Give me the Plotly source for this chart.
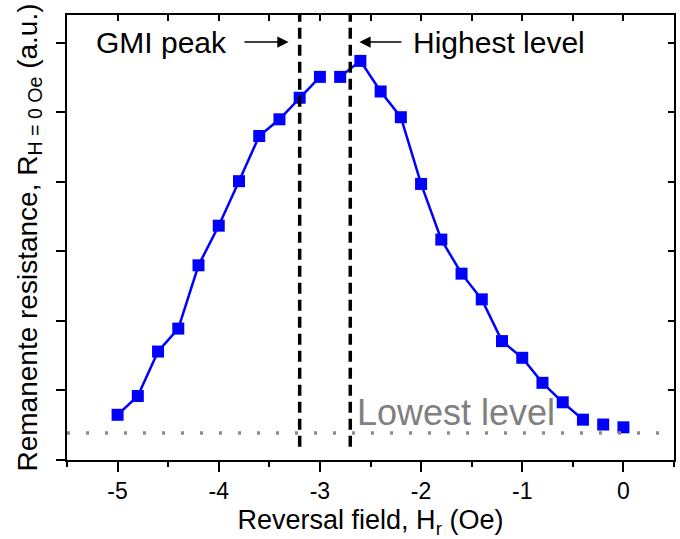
import plotly.graph_objects as go

# Data
field = [-5.0, -4.8, -4.6, -4.4, -4.2, -4.0, -3.8, -3.6, -3.4, -3.2, -3.0, -2.8, -2.6,
         -2.4, -2.2, -2.0, -1.8, -1.6, -1.4, -1.2, -1.0, -0.8, -0.6, -0.4, -0.2, 0.0]
resistance = [0.65, 0.92, 1.56, 1.89, 2.80, 3.37, 4.01, 4.66, 4.90, 5.21, 5.51, 5.51, 5.74,
              5.30, 4.93, 3.97, 3.17, 2.68, 2.31, 1.71, 1.47, 1.11, 0.83, 0.58, 0.51, 0.47]
# segments where the connecting line is not drawn (start index of the gap)
line_breaks = [10, 23, 24]

gmi_peak = -3.2
highest_level = -2.7
lowest_level = 0.39

x_ticks = [-5, -4, -3, -2, -1, 0]
x_tick_labels = ["-5", "-4", "-3", "-2", "-1", "0"]

FONT = "Liberation Sans, Arial, sans-serif"
BLUE = "#0000ff"

# build line arrays with breaks
lx, ly = [], []
for i, (xv, yv) in enumerate(zip(field, resistance)):
    lx.append(xv)
    ly.append(yv)
    if i in line_breaks:
        lx.append(None)
        ly.append(None)

fig = go.Figure()
fig.add_trace(go.Scatter(x=lx, y=ly, mode="lines",
                         line=dict(color=BLUE, width=2.5), showlegend=False,
                         hoverinfo="skip"))
fig.add_trace(go.Scatter(x=field, y=resistance, mode="markers",
                         marker=dict(symbol="square", size=12, color=BLUE,
                                     line=dict(width=0)),
                         showlegend=False))
# invisible trace for the overlay axes
fig.add_trace(go.Scatter(x=[None], y=[None], xaxis="x2", yaxis="y2", showlegend=False))

XR = [-5.5, 0.5]
YR = [0, 6.4]

# lowest level dotted line
fig.add_shape(type="line", xref="x", yref="y", x0=XR[0], x1=XR[1],
              y0=lowest_level, y1=lowest_level,
              line=dict(color="#8c8c8c", width=3.5, dash="3px,16px"))
# dashed vertical lines
for xv in [gmi_peak, highest_level]:
    fig.add_shape(type="line", xref="x", yref="y", x0=xv, x1=xv, y0=0.19, y1=YR[1],
                  line=dict(color="black", width=3.5, dash="11px,6px"))

fig.update_layout(
    width=680, height=539,
    margin=dict(l=67, r=6, t=15, b=79),
    plot_bgcolor="white", paper_bgcolor="white",
    font=dict(family=FONT, color="black"),
    xaxis=dict(range=XR, tickvals=x_ticks, ticktext=x_tick_labels,
               ticks="outside", ticklen=10, tickwidth=1.5, tickcolor="black",
               minor=dict(dtick=0.5, tick0=0, ticks="outside", ticklen=5,
                          tickwidth=1.5, tickcolor="black"),
               showline=True, linecolor="black", linewidth=1.5,
               showgrid=False, zeroline=False,
               tickfont=dict(size=23, family=FONT),
               title=dict(text="Reversal field, H<sub>r</sub> (Oe)",
                          font=dict(size=27, family=FONT), standoff=8)),
    yaxis=dict(range=YR, dtick=1, tick0=0, ticks="outside", ticklen=9,
               tickwidth=1.5, tickcolor="black", showticklabels=False,
               showline=True, linecolor="black", linewidth=1.5,
               showgrid=False, zeroline=False),
    xaxis2=dict(range=XR, overlaying="x", side="top", dtick=0.5, tick0=0,
                ticks="inside", ticklen=6, tickwidth=1.5, tickcolor="black",
                showticklabels=False, showline=True, linecolor="black",
                linewidth=1.5, showgrid=False, zeroline=False),
    yaxis2=dict(range=YR, overlaying="y", side="right", dtick=1, tick0=0,
                ticks="inside", ticklen=6, tickwidth=1.5, tickcolor="black",
                showticklabels=False, showline=True, linecolor="black",
                linewidth=1.5, showgrid=False, zeroline=False),
)

annotations = [
    dict(text="GMI peak", x=-4.57, y=6.0, xref="x", yref="y", showarrow=False,
         font=dict(size=30, family=FONT, color="black")),
    dict(text="Highest level", x=-1.23, y=6.0, xref="x", yref="y", showarrow=False,
         font=dict(size=30, family=FONT, color="black")),
    dict(text="Lowest level", x=-1.65, y=0.68, xref="x", yref="y", showarrow=False,
         font=dict(size=36, family=FONT, color="#808080")),
    dict(text="", x=-3.31, y=6.01, xref="x", yref="y", ax=-3.76, ay=6.01,
         axref="x", ayref="y", showarrow=True, arrowhead=2, arrowsize=1.5,
         arrowwidth=1.5, arrowcolor="black"),
    dict(text="", x=-2.61, y=6.01, xref="x", yref="y", ax=-2.18, ay=6.01,
         axref="x", ayref="y", showarrow=True, arrowhead=2, arrowsize=1.5,
         arrowwidth=1.5, arrowcolor="black"),
    dict(text="Remanente resistance, R<sub>H = 0 Oe</sub> (a.u.)",
         xref="paper", yref="paper", x=0, y=0.5, xshift=-38, textangle=-90,
         showarrow=False, xanchor="center", yanchor="middle",
         font=dict(size=28, family=FONT, color="black")),
]
fig.update_layout(annotations=annotations)

fig.write_html("out.html")
